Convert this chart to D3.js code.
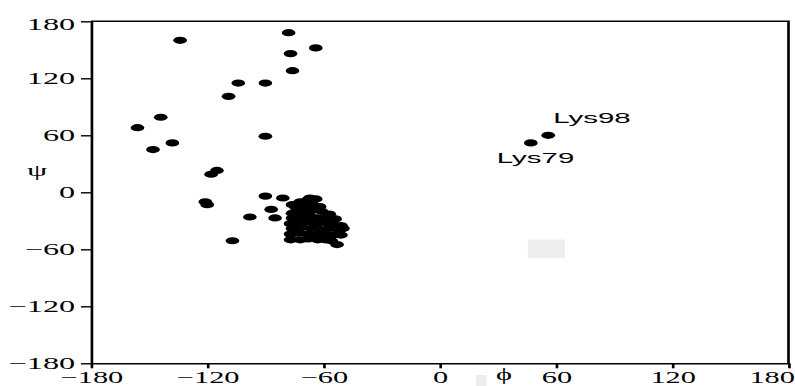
<!DOCTYPE html>
<html>
<head>
<meta charset="utf-8">
<script src="https://cdn.jsdelivr.net/npm/d3@7"></script>
<style>
  html, body { margin: 0; padding: 0; background: #fff; }
  svg { display: block; }
  .serif { font-family: "Liberation Serif", "DejaVu Serif", "Times New Roman", serif; }
</style>
</head>
<body>
<div id="chart"></div>
<script>
// Ramachandran plot (phi / psi)
const tickValues = [-180, -120, -60, 0, 60, 120, 180];

// residues in the beta / PPII region
const phiUpper = [-134, -78, -77, -64, -76, -104, -90, -109, -156, -144, -148, -138, -90, -115, -118];
const psiUpper = [160, 168, 146, 152, 128, 115, 115, 101, 68, 79, 45, 52, 59, 23, 19];

// residues around the alpha region (outliers + dense cluster)
const phiAlpha = [-121, -120, -98, -107, -90, -87, -85, -81, -67,
  -76, -71, -72, -68, -64, -74, -70, -66, -62, -76, -71, -66, -61, -57,
  -76, -72, -67, -63, -58, -54, -77, -73, -68, -64, -59, -55, -51,
  -76, -71, -66, -62, -57, -52, -50,
  -77, -73, -68, -64, -60, -55, -51,
  -77, -72, -68, -63, -59, -56, -53];
const psiAlpha = [-10, -13, -26, -51, -4, -18, -27, -6, -6,
  -13, -12, -10, -8, -7, -16, -14, -12, -15, -22, -20, -19, -20, -23,
  -27, -26, -25, -27, -26, -28, -33, -32, -31, -33, -32, -34, -35,
  -38, -37, -38, -39, -38, -40, -38,
  -44, -43, -44, -45, -44, -45, -45,
  -50, -50, -49, -50, -50, -51, -55];

// labelled lysines
const lysNames = ["Lys98", "Lys79"];
const lysPhi = [56, 47];
const lysPsi = [60, 52];

const W = 795, H = 386;
const S = 1.9; // the picture is stretched horizontally
const IW = W / S;

const svg = d3.select("#chart").append("svg")
  .attr("width", W)
  .attr("height", H)
  .attr("viewBox", `0 0 ${IW} ${H}`)
  .attr("preserveAspectRatio", "none");

const x = d3.scaleLinear().domain([-180, 180]).range([91 / S, 788.5 / S]);
const y = d3.scaleLinear().domain([-180, 180]).range([363.3, 21.3]);

const fmt = d => d < 0 ? "\u2212" + Math.abs(d) : String(d);

// light grey artefacts in the original
svg.append("rect")
  .attr("x", x(45.5)).attr("y", y(-49.5))
  .attr("width", x(64.6) - x(45.5)).attr("height", y(-69) - y(-49.5))
  .attr("fill", "#ededed");
svg.append("rect")
  .attr("x", 476 / S).attr("y", 375)
  .attr("width", 10.5 / S).attr("height", 11)
  .attr("fill", "#ececec");

// --- axes ---
const yAxis = svg.append("g")
  .attr("transform", `translate(${x(-180)},0)`)
  .call(d3.axisLeft(y).tickValues(tickValues).tickFormat(fmt)
    .tickSize(5.3).tickPadding(3).tickSizeOuter(0));

const xAxis = svg.append("g")
  .attr("transform", `translate(0,${y(-180)})`)
  .call(d3.axisBottom(x).tickValues(tickValues).tickFormat(fmt)
    .tickSize(5).tickPadding(3.5).tickSizeOuter(0));

[yAxis, xAxis].forEach(g => {
  g.attr("font-family", null).attr("font-size", null);
  g.selectAll("path, line").attr("stroke", "#000").attr("stroke-width", 1.4);
  g.selectAll("text")
    .attr("class", "serif")
    .attr("fill", "#000")
    .style("font-size", "17px");
});
yAxis.selectAll(".tick").filter(d => d === 180).select("text").attr("dy", "0.5em");
xAxis.selectAll("text").style("font-size", "16px");
// last x label would run off the right edge
xAxis.selectAll(".tick").filter(d => d === 180).select("text")
  .attr("text-anchor", "end")
  .attr("x", (W - 1 - 788.5) / S);

// top and right frame
svg.append("path")
  .attr("d", `M${x(-180)},${y(180)}H${x(180)}V${y(-180)}`)
  .attr("fill", "none")
  .attr("stroke", "#000")
  .attr("stroke-width", 1.4);

// axis titles
svg.append("text")
  .attr("class", "serif")
  .attr("x", 37 / S).attr("y", 176)
  .attr("text-anchor", "middle")
  .style("font-size", "17px")
  .text("\u03C8");
svg.append("text")
  .attr("class", "serif")
  .attr("x", 504 / S).attr("y", 380)
  .attr("text-anchor", "middle")
  .style("font-size", "16px")
  .text("\u03D5");

// --- points ---
const pts = phiUpper.map((p, i) => [p, psiUpper[i]])
  .concat(phiAlpha.map((p, i) => [p, psiAlpha[i]]))
  .concat(lysPhi.map((p, i) => [p, lysPsi[i]]));

svg.append("g")
  .selectAll("circle")
  .data(pts)
  .join("circle")
  .attr("cx", d => x(d[0]))
  .attr("cy", d => y(d[1]))
  .attr("r", 3.6)
  .attr("fill", "#000");

// labels for the two lysines
const labelOff = [[5 / S, -12], [-34 / S, 20]];
svg.append("g")
  .selectAll("text")
  .data(lysNames)
  .join("text")
  .attr("x", (d, i) => x(lysPhi[i]) + labelOff[i][0])
  .attr("y", (d, i) => y(lysPsi[i]) + labelOff[i][1])
  .attr("font-family", "'Liberation Sans', Arial, sans-serif")
  .attr("font-size", 15.5)
  .attr("fill", "#000")
  .text(d => d);
</script>
</body>
</html>
